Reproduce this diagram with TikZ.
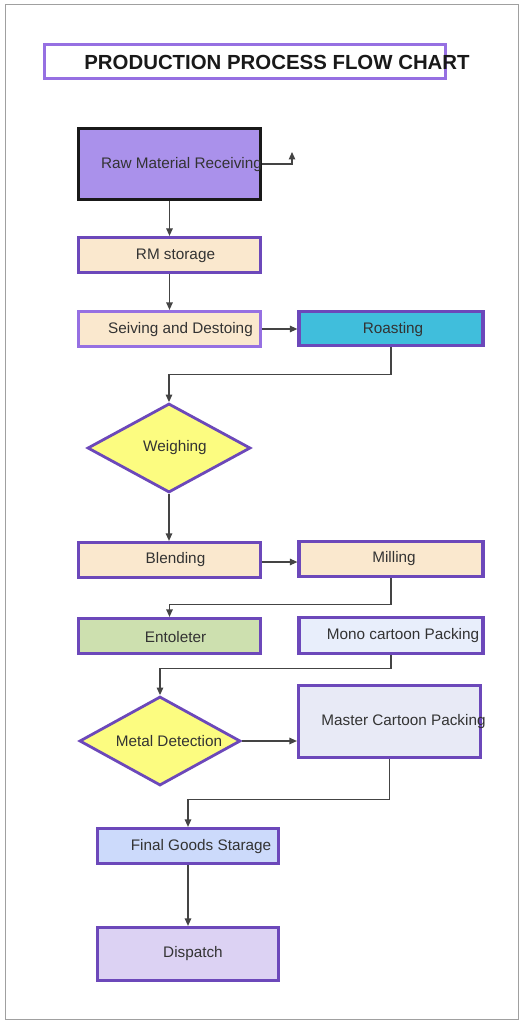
\documentclass[tikz,border=0pt]{standalone}
\usepackage{fontspec}
\setmainfont{Liberation Sans}
\usetikzlibrary{shapes.geometric, arrows.meta, positioning}
\definecolor{boxpurple}{RGB}{108,72,186}
\definecolor{lightpurple}{RGB}{150,112,226}
\definecolor{textgray}{RGB}{51,51,51}
\definecolor{linegray}{RGB}{68,68,68}
\definecolor{framegray}{RGB}{160,160,160}
\definecolor{rawviolet}{RGB}{170,145,235}
\definecolor{peach}{RGB}{250,232,206}
\definecolor{roastcyan}{RGB}{64,190,220}
\definecolor{decyellow}{RGB}{252,252,128}
\definecolor{entogreen}{RGB}{205,224,175}
\definecolor{monoblue}{RGB}{232,238,251}
\definecolor{mastergray}{RGB}{232,234,246}
\definecolor{finalblue}{RGB}{204,218,251}
\definecolor{dispviolet}{RGB}{220,210,243}

\begin{document}
\begin{tikzpicture}[
        x=1pt, y=-1pt,
        every node/.style={font=\fontsize{15.3}{18}\selectfont, text=textgray},
        box/.style={rectangle, draw=boxpurple, line width=3.2pt, minimum width=182pt, minimum height=35pt, inner sep=0pt},
        decision/.style={diamond, draw=boxpurple, line width=2.8pt, fill=decyellow, minimum width=163pt, minimum height=89pt, inner sep=0pt},
        flow/.style={draw=linegray, line width=1.2pt, -{Triangle[length=7.5pt, width=6.5pt]}}
    ]
        \useasboundingbox (0,0) rectangle (527,1024);
        \draw[framegray, line width=1pt] (5,5) rectangle (518,1019);

        % title
        \node[box, draw=lightpurple, minimum width=401pt, minimum height=34pt,
              label={[xshift=32pt, yshift=-0.5pt, text=black!90, font=\fontsize{20.4}{24}\selectfont\bfseries]center:PRODUCTION PROCESS FLOW CHART}] (title) at (245,61.5) {};

        % process steps
        \node[box, draw=black!90, line width=3.6pt, fill=rawviolet, minimum height=71pt,
              label={[xshift=12pt, yshift=-0.5pt]center:Raw Material Receiving}] (raw) at (169.5,164) {};
        \node[box, fill=peach, label={[xshift=6pt, yshift=-1pt]center:RM storage}] (rms) at (169.5,255) {};
        \node[box, draw=lightpurple, fill=peach, label={[xshift=11pt, yshift=-1pt]center:Seiving and Destoing}] (seiv) at (169.5,329) {};
        \node[box, fill=roastcyan, minimum width=184pt, minimum height=34pt, label={[xshift=2pt, yshift=-1pt]center:Roasting}] (roast) at (391,328.5) {};
        \node[decision, label={[xshift=6pt, yshift=0.5pt]center:Weighing}] (weigh) at (169,448) {};
        \node[box, fill=peach, label={[xshift=6pt, yshift=0.5pt]center:Blending}] (blend) at (169.5,560) {};
        \node[box, fill=peach, minimum width=184pt, label={[xshift=3pt, yshift=0.5pt]center:Milling}] (mill) at (391,559) {};
        \node[box, fill=entogreen, label={[xshift=6pt, yshift=-1pt]center:Entoleter}] (ento) at (169.5,636) {};
        \node[box, fill=monoblue, minimum width=184pt, minimum height=36pt, label={[xshift=12pt, yshift=-0.5pt]center:Mono cartoon Packing}] (mono) at (391,635.5) {};
        \node[decision, minimum width=161pt, label={[xshift=9pt, yshift=-0.5pt]center:Metal Detection}] (metal) at (160,741) {};
        \node[box, fill=mastergray, minimum height=72pt, label={[xshift=14pt, yshift=0pt]center:Master Cartoon Packing}] (master) at (389.5,721.5) {};
        \node[box, fill=finalblue, minimum width=181pt, label={[xshift=13pt, yshift=-0.5pt]center:Final Goods Starage}] (final) at (188,846) {};
        \node[box, fill=dispviolet, minimum width=181pt, minimum height=53pt, label={[xshift=5pt, yshift=0.5pt]center:Dispatch}] (disp) at (188,954) {};

        \coordinate (stubend) at (292,152);

        % connectors
        \draw[flow] (raw.east) -| (stubend);
        \draw[flow] (raw.south) -- (rms.north);
        \draw[flow] (rms.south) -- (seiv.north);
        \draw[flow] (seiv.east) -- (seiv.east -| roast.west);
        \draw[flow] (roast.south) -- ++(0,27) -| (weigh.north);
        \draw[flow] (weigh.south) -- (weigh.south |- blend.north);
        \draw[flow] ([yshift=-2pt]blend.east) -- ([yshift=-2pt]blend.east -| mill.west);
        \draw[flow] (mill.south) -- ++(0,26) -| (ento.north);
        \draw[flow] (mono.south) -- ++(0,13) -| (metal.north);
        \draw[flow] (metal.east) -- (metal.east -| master.west);
        \draw[flow] (master.south) -- ++(0,40) -| (final.north);
        \draw[flow] (final.south) -- (disp.north);
    \end{tikzpicture}
\end{document}
